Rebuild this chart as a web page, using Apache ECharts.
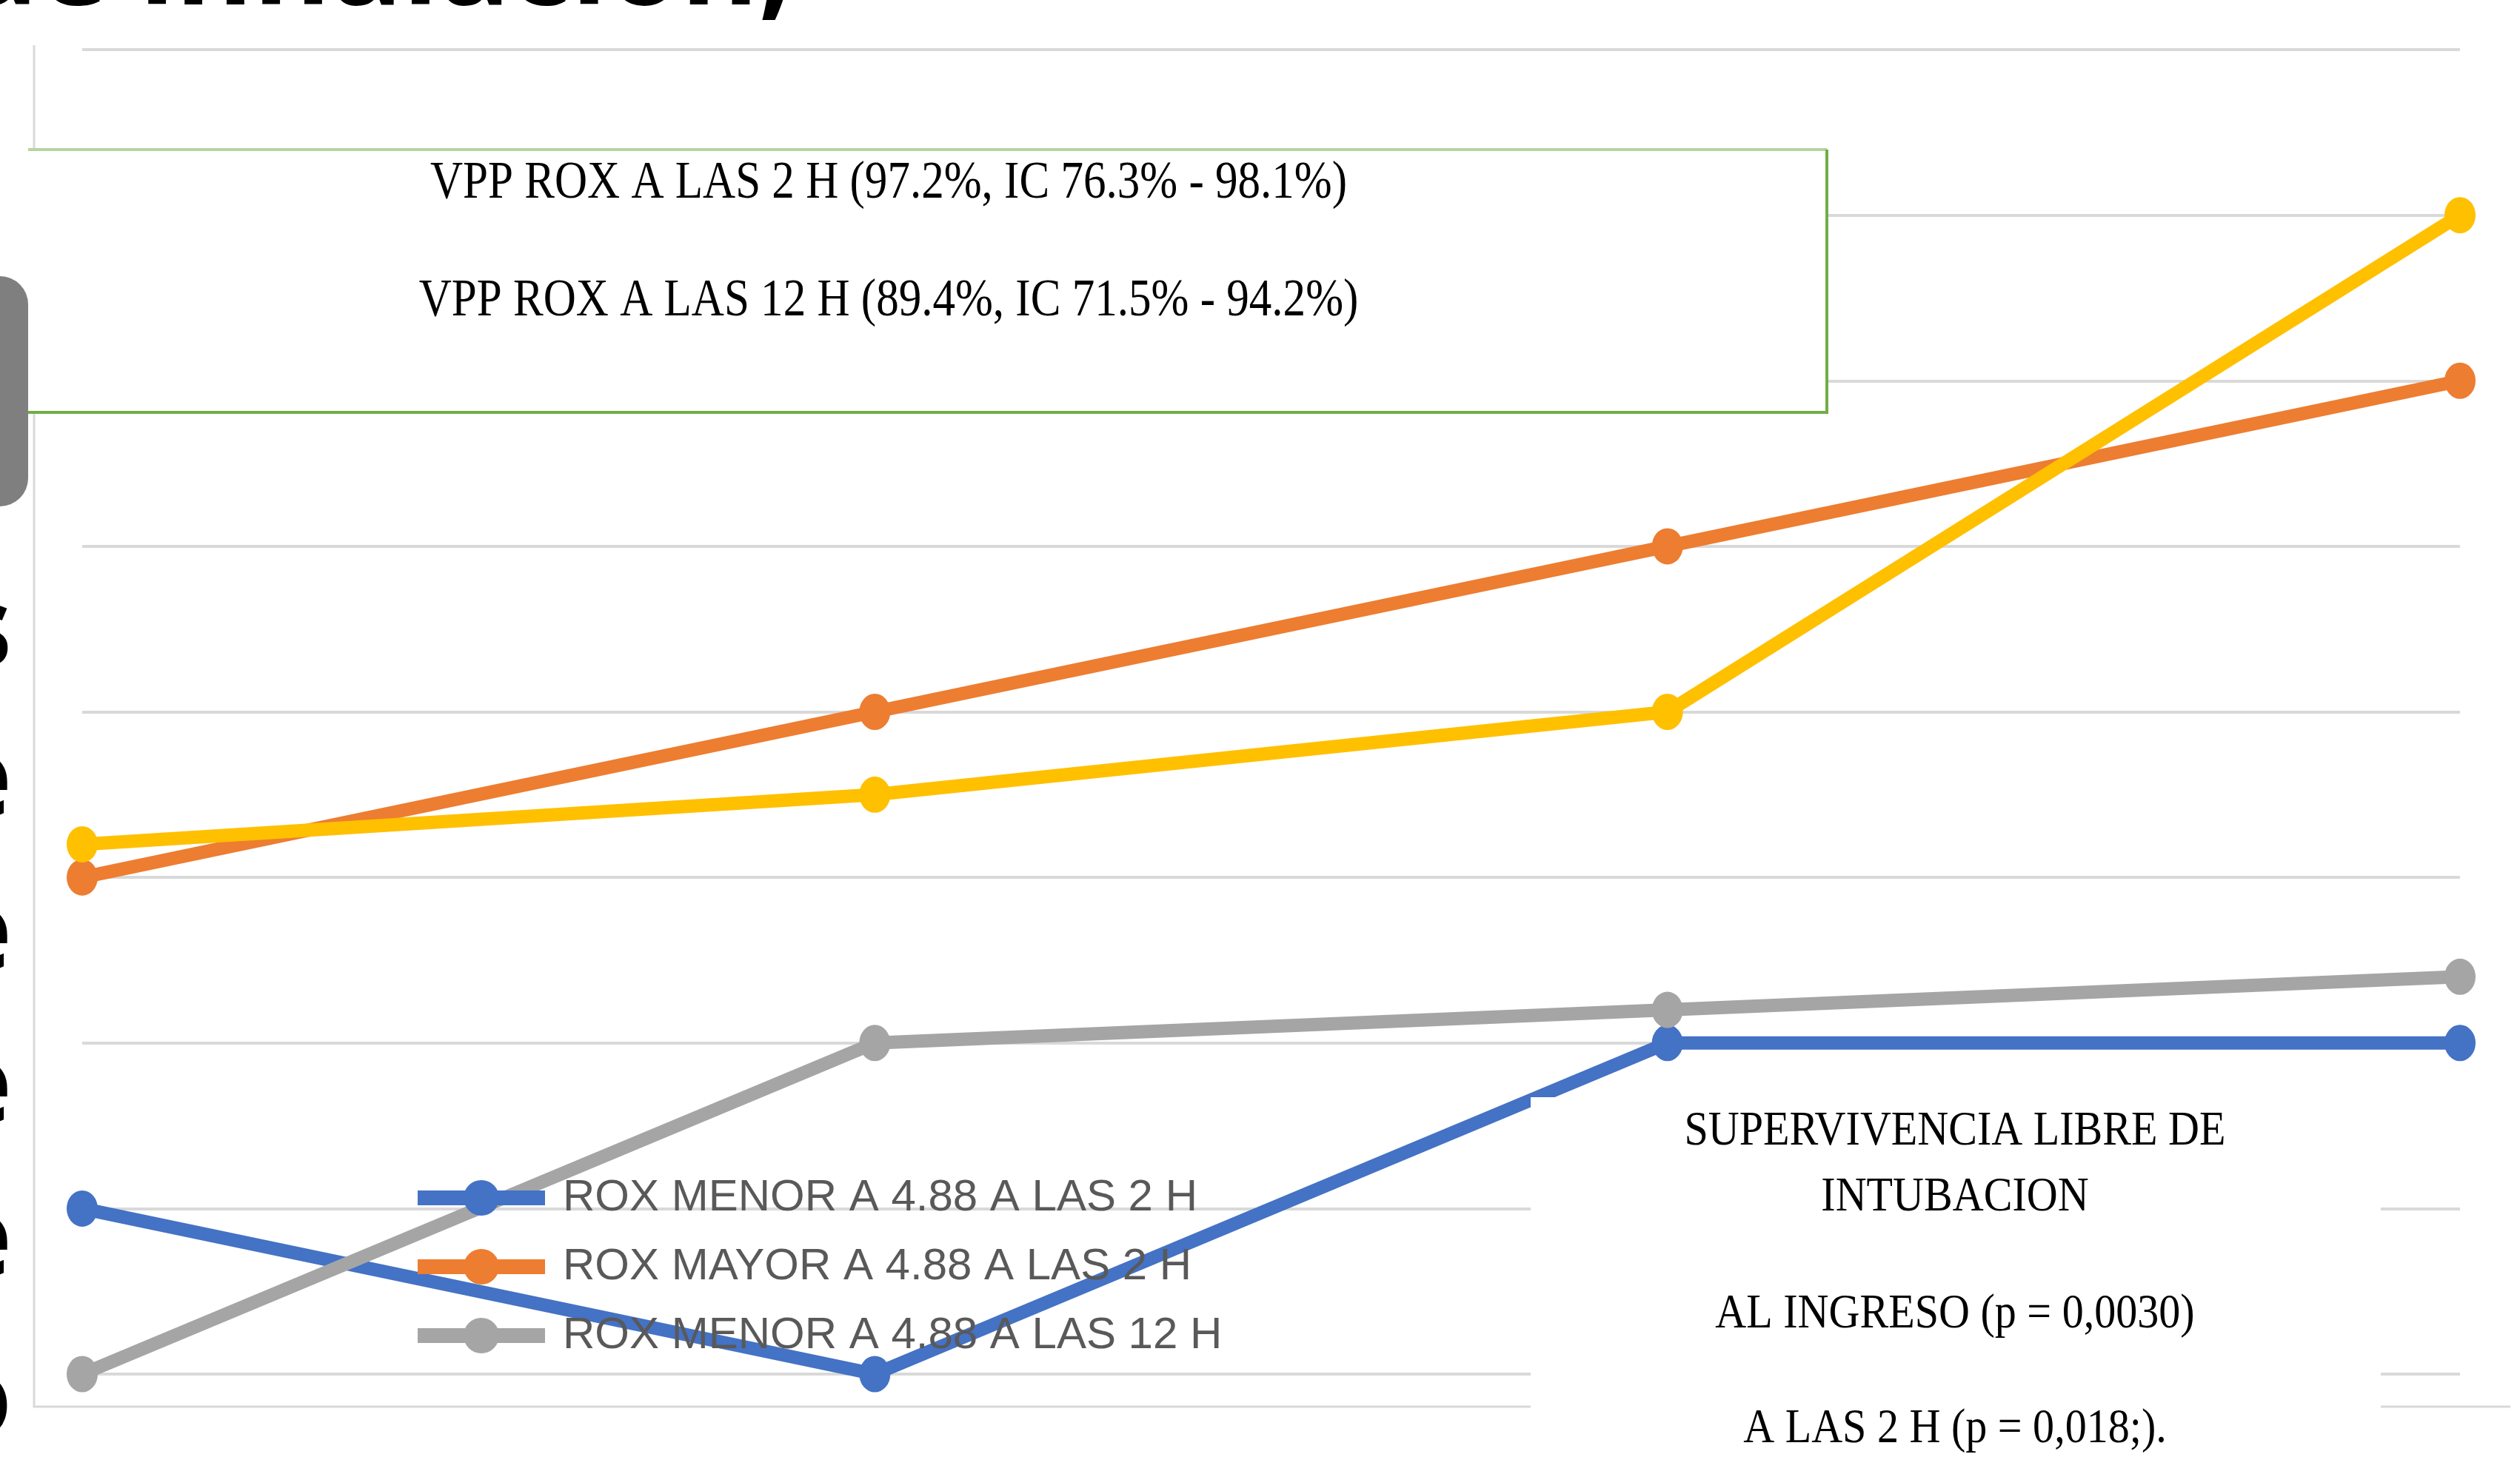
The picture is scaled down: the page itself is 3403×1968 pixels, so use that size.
<!DOCTYPE html>
<html>
<head>
<meta charset="utf-8">
<script src="https://cdn.jsdelivr.net/npm/echarts@6/dist/echarts.min.js"></script>
<style>
  html, body { margin: 0; padding: 0; background: #ffffff; }
  #chart { width: 3403px; height: 1968px; }
</style>
</head>
<body>
<div id="chart"></div>
<script>
// Time points along the horizontal axis (no labels shown)
const categories = ['Ingreso', '2 H', '12 H', '24 H'];

// Series names and values
const seriesNames = [
  'ROX MENOR A 4.88 A LAS 2 H',
  'ROX MAYOR A 4.88 A LAS 2 H',
  'ROX MENOR A 4.88 A LAS 12 H',
  'ROX MAYOR A 4.88 A LAS 12 H'
];
const roxMenor2h  = [10, 0, 20, 20];
const roxMayor2h  = [30, 40, 50, 60];
const roxMenor12h = [0, 20, 22, 24];
const roxMayor12h = [32, 35, 40, 70];

// Value axis range
const yMin = 0;
const yMax = 80;
const yStep = 10;

// Annotation texts
const vppLines = [
  'VPP ROX A LAS 2 H (97.2%, IC 76.3% - 98.1%)',
  'VPP ROX A LAS 12 H (89.4%, IC 71.5% - 94.2%)'
];
const survivalLines = [
  'SUPERVIVENCIA LIBRE DE',
  'INTUBACION',
  'AL INGRESO (p = 0,0030)',
  'A LAS 2 H (p = 0,018;).'
];
const headingText = 'de inhalación,';
const sideGlyphs = ['s', 'e', 'e', 'e', 'e', 'o'];

const colors = ['#4472c4', '#ed7d31', '#a5a5a5', '#ffc000'];
const seriesData = [roxMenor2h, roxMayor2h, roxMenor12h, roxMayor12h];

const serifFont = '"Liberation Serif", "Times New Roman", serif';

const graphics = [];

// slide heading fragment at the very top
graphics.push({
  type: 'text', x: 1070, y: -40, z: 20,
  style: { text: headingText, font: 'bold 160px "Open Sans", sans-serif', fill: '#000', align: 'right', verticalAlign: 'middle' }
});
// side text fragments along the left edge
const sideBase = [915, 1118, 1325, 1532, 1739, 1955];
sideGlyphs.forEach((g, i) => {
  graphics.push({
    type: 'text', x: 16, y: sideBase[i] - 58, z: 20,
    style: { text: g, font: 'bold 150px "Open Sans", sans-serif', fill: '#000', align: 'right', verticalAlign: 'middle' }
  });
});
// grey tab at the left edge
graphics.push({
  type: 'rect', z: 20,
  shape: { x: -40, y: 373, width: 78, height: 311, r: 38 },
  style: { fill: '#7f7f7f' }
});

// chart area frame (left and bottom)
graphics.push({
  type: 'polyline', z: 0,
  shape: { points: [[46, 61], [46, 1900], [3390, 1900]] },
  style: { stroke: '#d9d9d9', lineWidth: 3, fill: null }
});

// VPP annotation box
graphics.push({
  type: 'rect', z: 10,
  shape: { x: 38, y: 202, width: 2429, height: 355 },
  style: { fill: '#ffffff' }
});
graphics.push({
  type: 'line', z: 11,
  shape: { x1: 38, y1: 202, x2: 2467, y2: 202 },
  style: { stroke: '#b5d59e', lineWidth: 4 }
});
graphics.push({
  type: 'polyline', z: 11,
  shape: { points: [[2467, 202], [2467, 557], [38, 557]] },
  style: { stroke: '#70ad47', lineWidth: 4, fill: null }
});
const vppY = [248, 407];
vppLines.forEach((t, i) => {
  graphics.push({
    type: 'text', x: 1200, y: vppY[i], z: 12, scaleX: 0.86,
    style: { text: t, font: '71px ' + serifFont, fill: '#000', align: 'center', verticalAlign: 'middle' }
  });
});

// survival annotation box
graphics.push({
  type: 'rect', z: 10,
  shape: { x: 2067, y: 1482, width: 1148, height: 500 },
  style: { fill: '#ffffff' }
});
const survY = [1529, 1618, 1776, 1931];
survivalLines.forEach((t, i) => {
  graphics.push({
    type: 'text', x: 2640, y: survY[i], z: 12, scaleX: 0.88,
    style: { text: t, font: '66px ' + serifFont, fill: '#000', align: 'center', verticalAlign: 'middle' }
  });
});

const chart = echarts.init(document.getElementById('chart'), null, { renderer: 'canvas' });
chart.setOption({
  animation: false,
  backgroundColor: '#ffffff',
  grid: { left: 111, right: 81, top: 67, bottom: 112 },
  legend: {
    data: seriesNames.slice(0, 3),
    orient: 'vertical',
    left: 549,
    top: 1583,
    itemWidth: 172,
    itemHeight: 60,
    itemGap: 33,
    lineStyle: { width: 20 },
    textStyle: {
      fontFamily: '"Liberation Sans", Arial, sans-serif',
      fontSize: 60,
      color: '#595959',
      padding: [0, 0, 0, 19]
    }
  },
  xAxis: {
    type: 'category',
    data: categories,
    boundaryGap: false,
    axisLine: { show: false },
    axisTick: { show: false },
    axisLabel: { show: false },
    splitLine: { show: false }
  },
  yAxis: {
    type: 'value',
    min: yMin,
    max: yMax,
    interval: yStep,
    axisLine: { show: false },
    axisTick: { show: false },
    axisLabel: { show: false },
    splitLine: { lineStyle: { color: '#d9d9d9', width: 4 } }
  },
  series: seriesNames.map((name, i) => ({
    name: name,
    type: 'line',
    data: seriesData[i],
    symbol: 'circle',
    symbolSize: [42, 49],
    color: colors[i],
    lineStyle: { width: 18, color: colors[i] },
    itemStyle: { color: colors[i] },
    emphasis: { disabled: true }
  })),
  graphic: graphics
});
</script>
</body>
</html>
